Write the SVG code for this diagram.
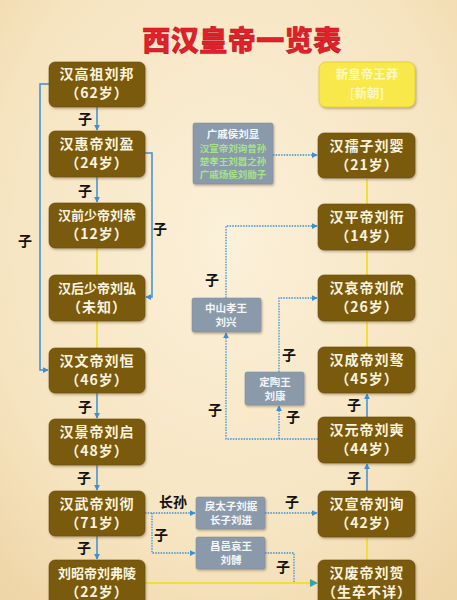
<svg xmlns="http://www.w3.org/2000/svg" width="457" height="600" viewBox="0 0 457 600">
<defs>
<radialGradient id="bg" cx="0.5" cy="0.4" r="0.75">
<stop offset="0" stop-color="#fbf0d9"/>
<stop offset="0.7" stop-color="#f6e4c0"/>
<stop offset="1" stop-color="#efd6a8"/>
</radialGradient>
<filter id="sh" x="-10%" y="-10%" width="125%" height="130%">
<feDropShadow dx="1" dy="1.5" stdDeviation="1" flood-color="#6b5530" flood-opacity="0.45"/>
</filter>
<marker id="ab" viewBox="0 0 8 8" refX="7" refY="4" markerWidth="6" markerHeight="6" orient="auto" markerUnits="userSpaceOnUse">
<path d="M0,0 L8,4 L0,8 z" fill="#3a8fd6"/>
</marker>
<marker id="at" viewBox="0 0 8 8" refX="7" refY="4" markerWidth="8" markerHeight="8" orient="auto" markerUnits="userSpaceOnUse">
<path d="M0,0 L8,4 L0,8 z" fill="#3aa0a0"/>
</marker>
<marker id="ay" viewBox="0 0 8 8" refX="7" refY="4" markerWidth="6" markerHeight="6" orient="auto" markerUnits="userSpaceOnUse">
<path d="M0,0 L8,4 L0,8 z" fill="#f0de3a"/>
</marker>
</defs>
<style>
.emp rect{fill:#7a5a10;stroke:#664a0a;stroke-width:0.6;filter:url(#sh)}
.emp text{fill:#fbf3df;font-family:"Noto Sans CJK SC","Noto Sans",sans-serif;font-weight:700;text-anchor:middle}
.n1{font-size:14px;letter-spacing:1px}
.n6{font-size:13px;letter-spacing:0px}
.gray rect{fill:#8a9aab;stroke:#7b8b9c;stroke-width:0.5;filter:url(#sh)}
.gray text{fill:#f4f6f8;font-family:"Noto Sans CJK SC","Noto Sans",sans-serif;font-weight:700;text-anchor:middle;font-size:10.5px}
.green{fill:#a6e486 !important;font-size:9.5px !important}
.blue{stroke:#3a8fd6;stroke-width:1.5;fill:none}
.dot{stroke:#3a8fd6;stroke-width:1.3;fill:none;stroke-dasharray:1.5 1.2}
.yel{stroke:#f0de3a;stroke-width:2;fill:none}
.lab{font-family:"Noto Sans CJK SC","Noto Sans",sans-serif;font-weight:700;font-size:14px;fill:#111;text-anchor:middle}
</style>
<rect width="457" height="600" fill="url(#bg)"/>
<text x="242" y="51" text-anchor="middle" font-family="'Noto Sans CJK SC','Noto Sans',sans-serif" font-weight="900" font-size="28" fill="#e3202a" stroke="#b8161e" stroke-width="0.6" letter-spacing="0.5">西汉皇帝一览表</text>

<g id="connectors">
<line class="blue" x1="97" y1="107" x2="97" y2="130" marker-end="url(#ab)"/>
<line class="blue" x1="97" y1="177" x2="97" y2="202" marker-end="url(#ab)"/>
<line class="yel" x1="97" y1="248" x2="97" y2="275"/>
<line class="yel" x1="97" y1="321" x2="97" y2="348"/>
<polyline class="blue" points="145,153 152,153 152,297 146,297" marker-end="url(#ab)"/>
<polyline class="blue" points="49,84 40,84 40,370 48,370" marker-end="url(#ab)"/>
<line class="blue" x1="97" y1="393" x2="97" y2="418" marker-end="url(#ab)"/>
<line class="blue" x1="97" y1="465" x2="97" y2="490" marker-end="url(#ab)"/>
<line class="blue" x1="97" y1="536" x2="97" y2="559" marker-end="url(#ab)"/>
<line class="dot" x1="145" y1="513" x2="195" y2="513" marker-end="url(#ab)"/>
<polyline class="dot" points="152,513 152,553 195,553" marker-end="url(#ab)"/>
<line class="dot" x1="265" y1="513" x2="317" y2="513" marker-end="url(#ab)"/>
<polyline class="dot" points="265,553 294,553 294,583 310,583"/>
<line class="yel" x1="145" y1="583" x2="317" y2="583" marker-end="url(#at)"/>
<line class="yel" x1="367" y1="560" x2="367" y2="538"/>
<line class="blue" x1="367" y1="491" x2="367" y2="464" marker-end="url(#ab)"/>
<line class="blue" x1="367" y1="417" x2="367" y2="394" marker-end="url(#ab)"/>
<line class="yel" x1="367" y1="347" x2="367" y2="322"/>
<line class="yel" x1="367" y1="275" x2="367" y2="251"/>
<line class="yel" x1="367" y1="204" x2="367" y2="179"/>
<line class="dot" x1="273" y1="155" x2="317" y2="155" marker-end="url(#ab)"/>
<polyline class="dot" points="318,439 226,439 226,333" marker-end="url(#ab)"/>
<polyline class="dot" points="226,298 226,226 317,226" marker-end="url(#ab)"/>
<polyline class="dot" points="279,439 279,406" marker-end="url(#ab)"/>
<polyline class="dot" points="279,372 279,298 317,298" marker-end="url(#ab)"/>
<text class="lab" x="85" y="124">子</text>
<text class="lab" x="85" y="196">子</text>
<text class="lab" x="160" y="234">子</text>
<text class="lab" x="25" y="246">子</text>
<text class="lab" x="85" y="412">子</text>
<text class="lab" x="84" y="483">子</text>
<text class="lab" x="84" y="553">子</text>
<text class="lab" x="173" y="507">长孙</text>
<text class="lab" x="161" y="540">子</text>
<text class="lab" x="292" y="507">子</text>
<text class="lab" x="283" y="572">子</text>
<text class="lab" x="354" y="483">子</text>
<text class="lab" x="354" y="410">子</text>
<text class="lab" x="212" y="285">子</text>
<text class="lab" x="289" y="360">子</text>
<text class="lab" x="215" y="415">子</text>
<text class="lab" x="293" y="422">子</text>
</g>

<g id="gaozu" class="emp"><rect x="49" y="62" width="96" height="45" rx="6"/><text class="n1" x="97" y="79">汉高祖刘邦</text><text class="n1" x="97" y="98">（62岁）</text></g>
<g id="huidi" class="emp"><rect x="49" y="131" width="96" height="46" rx="6"/><text class="n1" x="97" y="149">汉惠帝刘盈</text><text class="n1" x="97" y="168">（24岁）</text></g>
<g id="qianshaodi" class="emp"><rect x="49" y="203" width="96" height="45" rx="6"/><text class="n6" x="97" y="220">汉前少帝刘恭</text><text class="n1" x="97" y="239">（12岁）</text></g>
<g id="houshaodi" class="emp"><rect x="49" y="275" width="96" height="46" rx="6"/><text class="n6" x="97" y="293">汉后少帝刘弘</text><text class="n1" x="97" y="312">（未知）</text></g>
<g id="wendi" class="emp"><rect x="49" y="348" width="96" height="45" rx="6"/><text class="n1" x="97" y="366">汉文帝刘恒</text><text class="n1" x="97" y="385">（46岁）</text></g>
<g id="jingdi" class="emp"><rect x="49" y="419" width="96" height="46" rx="6"/><text class="n1" x="97" y="437">汉景帝刘启</text><text class="n1" x="97" y="456">（48岁）</text></g>
<g id="wudi" class="emp"><rect x="49" y="491" width="96" height="45" rx="6"/><text class="n1" x="97" y="509">汉武帝刘彻</text><text class="n1" x="97" y="528">（71岁）</text></g>
<g id="zhaodi" class="emp"><rect x="49" y="560" width="96" height="46" rx="6"/><text class="n6" x="97" y="578">刘昭帝刘弗陵</text><text class="n1" x="97" y="597">（22岁）</text></g>

<g id="wangmang"><rect x="319" y="62" width="96" height="45" rx="7" fill="#f8e84a" stroke="#e2cc3a" stroke-width="0.8" filter="url(#sh)"/><text x="367" y="79" text-anchor="middle" font-family="'Noto Sans CJK SC',sans-serif" font-weight="700" font-size="12.5" fill="#fdf8c0">新皇帝王莽</text><text x="367" y="98" text-anchor="middle" font-family="'Noto Sans CJK SC',sans-serif" font-weight="700" font-size="12.5" fill="#fdf8c0">[新朝]</text></g>
<g id="ruzi" class="emp"><rect x="318" y="133" width="97" height="45" rx="6"/><text class="n1" x="367" y="151">汉孺子刘婴</text><text class="n1" x="367" y="170">（21岁）</text></g>
<g id="pingdi" class="emp"><rect x="318" y="204" width="97" height="46" rx="6"/><text class="n1" x="367" y="222">汉平帝刘衎</text><text class="n1" x="367" y="241">（14岁）</text></g>
<g id="aidi" class="emp"><rect x="318" y="275" width="97" height="46" rx="6"/><text class="n1" x="367" y="293">汉哀帝刘欣</text><text class="n1" x="367" y="312">（26岁）</text></g>
<g id="chengdi" class="emp"><rect x="318" y="347" width="97" height="46" rx="6"/><text class="n1" x="367" y="365">汉成帝刘骜</text><text class="n1" x="367" y="384">（45岁）</text></g>
<g id="yuandi" class="emp"><rect x="318" y="417" width="97" height="46" rx="6"/><text class="n1" x="367" y="435">汉元帝刘奭</text><text class="n1" x="367" y="454">（44岁）</text></g>
<g id="xuandi" class="emp"><rect x="318" y="491" width="97" height="46" rx="6"/><text class="n1" x="367" y="509">汉宣帝刘询</text><text class="n1" x="367" y="528">（42岁）</text></g>
<g id="feidi" class="emp"><rect x="318" y="560" width="97" height="46" rx="6"/><text class="n1" x="367" y="578">汉废帝刘贺</text><text class="n1" x="367" y="597">（生卒不详）</text></g>

<g id="liuxian" class="gray"><rect x="193" y="123" width="80" height="61" rx="2"/><text x="233" y="138">广戚侯刘显</text><text class="green" x="233" y="152">汉宣帝刘询曾孙</text><text class="green" x="233" y="165">楚孝王刘嚣之孙</text><text class="green" x="233" y="178">广戚炀侯刘勋子</text></g>
<g id="liuxing" class="gray"><rect x="192" y="298" width="69" height="34" rx="2"/><text x="226" y="312">中山孝王</text><text x="226" y="326">刘兴</text></g>
<g id="liukang" class="gray"><rect x="245" y="372" width="59" height="33" rx="2"/><text x="275" y="386">定陶王</text><text x="275" y="400">刘康</text></g>
<g id="liujin" class="gray"><rect x="196" y="497" width="69" height="32" rx="2"/><text x="231" y="510">戾太子刘据</text><text x="231" y="524">长子刘进</text></g>
<g id="liubo" class="gray"><rect x="196" y="537" width="69" height="32" rx="2"/><text x="231" y="550">昌邑哀王</text><text x="231" y="564">刘髆</text></g>
</svg>
